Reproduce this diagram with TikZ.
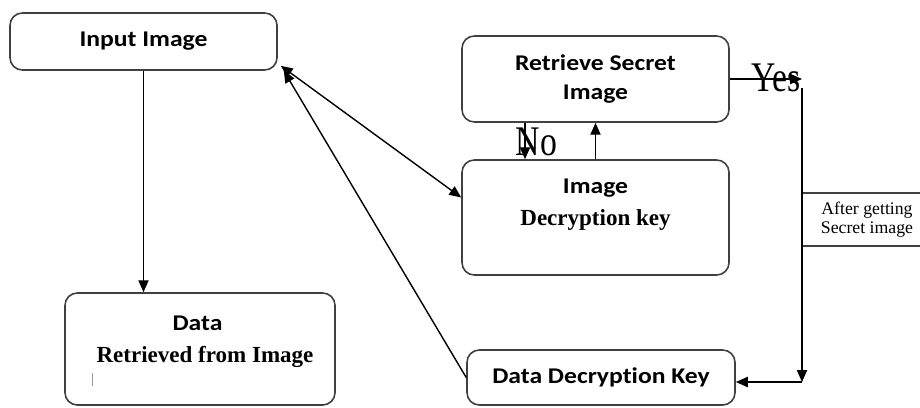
\documentclass[tikz,border=0pt]{standalone}
\usepackage{fontspec}
\setmainfont{Liberation Serif}
\newfontfamily\boxfont[FakeStretch=1.14,Ligatures=NoCommon]{Carlito}
\newfontfamily\answerfont[FakeStretch=0.8]{Liberation Serif}
\usetikzlibrary{arrows.meta}

\def\boxwidth{5.34cm}

\begin{document}
\begin{tikzpicture}[>={Triangle[length=6.8pt,width=5.8pt]}, line width=0.8pt]
    \tikzstyle{block}=[draw=black!75, line width=0.9pt, rounded corners=7pt, minimum width=\boxwidth, inner sep=0pt]
    \tikzstyle{head}=[font=\boxfont\bfseries\fontsize{12.8}{17}\selectfont, align=center]
    \tikzstyle{sub}=[font=\bfseries\fontsize{13.1}{15}\selectfont]
    \tikzstyle{answer}=[font=\answerfont\fontsize{24}{26}\selectfont, inner sep=0pt]

    \useasboundingbox (0,0) rectangle (18.4,-8.14);

    \node[block, head, minimum height=1.14cm] (input) at (2.87,-0.83) {Input Image};
    \node[block, head, minimum height=1.72cm] (ret) at (11.91,-1.58) {Retrieve Secret\\Image};
    \node[block, minimum height=2.3cm] (imgkey) at (11.91,-4.35) {};
    \node[block, minimum width=5.4cm, minimum height=2.24cm] (data) at (4.0,-6.98) {};
    \node[block, head, minimum width=5.36cm, minimum height=1.1cm] (datakey) at (12.02,-7.55) {Data Decryption Key};
    \node[draw=black!75, line width=0.6pt, minimum width=2.6cm, minimum height=1.06cm, align=center,
          font=\fontsize{10.1}{11}\selectfont] (after) at (17.34,-4.39) {After getting\\Secret image};

    \node[head] (imgkey-top) at (11.91,-3.76) {Image};
    \node[sub] (imgkey-bot) at (11.91,-4.40) {Decryption key};
    \node[head] (data-top) at (3.95,-6.46) {Data};
    \node[sub] (data-bot) at (4.1,-7.14) {Retrieved from Image};
    \draw[black!40, line width=0.4pt] (1.84,-7.46) -- ++(0,-0.26);

    \draw[->] (input.south) -- (input.south |- data.north);
    \draw[<->] ([shift={(0.06,0.1)}]input.south east) -- ([yshift=0.4cm]imgkey.west);
    \draw[->] (datakey.west) -- ([shift={(0.12,0)}]input.south east);

    \draw[->] ([xshift=-1.41cm]ret.south) -- ([xshift=-1.41cm]imgkey.north);
    \draw[->] (imgkey.north) -- (ret.south);
    \node[answer] (no) at (10.73,-2.84) {No};

    \coordinate (yes-end) at (16.04,-1.58);
    \coordinate (turn) at (16.04,-7.64);
    \draw[->] (ret.east) -- (yes-end);
    \draw[->] ([yshift=-0.18cm]yes-end) -- (turn);
    \draw[->] (turn) -- (turn -| datakey.east);
    \node[answer] (yes) at (15.52,-1.56) {Yes};
\end{tikzpicture}
\end{document}
